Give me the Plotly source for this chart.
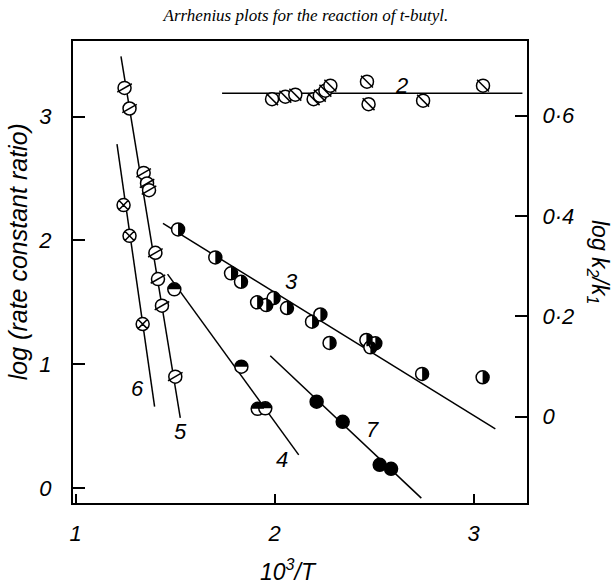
import plotly.graph_objects as go

# ---------------- data ----------------
# series 2 : plotted against the right axis (log k2/k1)
s2_x = [1.987, 2.054, 2.104, 2.196, 2.227, 2.255, 2.280, 2.464, 2.472, 2.746, 3.047]
s2_y = [0.633, 0.638, 0.642, 0.633, 0.640, 0.650, 0.660, 0.668, 0.623, 0.630, 0.660]
fit2_x = [1.736, 3.245]
fit2_y = [0.645, 0.645]

# series 3 (right half black circles)
s3_x = [1.515, 1.702, 1.781, 1.831, 1.912, 1.958, 1.995, 2.062, 2.188, 2.230,
        2.276, 2.461, 2.481, 2.506, 2.741, 3.045]
s3_y = [2.089, 1.863, 1.734, 1.666, 1.500, 1.478, 1.535, 1.454, 1.344, 1.402,
        1.172, 1.196, 1.137, 1.169, 0.922, 0.895]
fit3_x = [1.439, 3.109]
fit3_y = [2.137, 0.478]

# series 4 (upper half black circles)
s4_x = [1.496, 1.833, 1.915, 1.953]
s4_y = [1.605, 0.981, 0.640, 0.644]
fit4_x = [1.462, 2.121]
fit4_y = [1.728, 0.269]

# series 5 (circles with a shallow stripe)
s5_x = [1.246, 1.271, 1.342, 1.359, 1.369, 1.401, 1.414, 1.434, 1.501]
s5_y = [3.231, 3.065, 2.545, 2.460, 2.406, 1.900, 1.688, 1.473, 0.900]
fit5_x = [1.228, 1.526]
fit5_y = [3.486, 0.567]

# series 6 (crossed circles)
s6_x = [1.241, 1.271, 1.337]
s6_y = [2.285, 2.037, 1.325]
fit6_x = [1.208, 1.397]
fit6_y = [2.777, 0.658]

# series 7 (filled circles)
s7_x = [2.211, 2.342, 2.528, 2.585]
s7_y = [0.698, 0.535, 0.188, 0.156]
fit7_x = [1.978, 2.737]
fit7_y = [1.069, -0.081]

# curve labels
lab_text = ["2", "3", "4", "5", "6", "7"]
lab_x = [2.636, 2.087, 2.039, 1.526, 1.309, 2.491]
lab_y = [3.252, 1.666, 0.228, 0.454, 0.806, 0.470]

# ticks
x_ticks = [1, 2, 3]
x_ticktext = ["1", "2", "3"]
yl_ticks = [0, 1, 2, 3]
yl_ticktext = ["0", "1", "2", "3"]
yr_ticks = [0, 0.2, 0.4, 0.6]
yr_ticktext = ["0", "0·2", "0·4", "0·6"]

title_text = "Arrhenius plots for the reaction of t-butyl."

# ---------------- figure ----------------
HAND = "Liberation Sans"
MS = 13
LW = 1.5
R = 6.3          # half-disk radius in pixels
K = 0.5523 * R   # bezier handle

fig = go.Figure()


def add_line(x, y, yaxis="y"):
    fig.add_trace(go.Scatter(x=x, y=y, mode="lines", yaxis=yaxis,
                             line=dict(color="black", width=LW),
                             showlegend=False, hoverinfo="skip"))


def add_disk(x, y, yaxis="y", symbol="circle", color="white"):
    fig.add_trace(go.Scatter(x=x, y=y, mode="markers", yaxis=yaxis,
                             marker=dict(symbol=symbol, size=MS, color=color,
                                         line=dict(color="black", width=LW)),
                             showlegend=False, hoverinfo="skip"))


def add_stripe(x, y, angle, yaxis="y"):
    fig.add_trace(go.Scatter(x=x, y=y, mode="markers", yaxis=yaxis,
                             marker=dict(symbol="line-ew", size=MS - 1, angle=angle,
                                         line=dict(color="black", width=LW)),
                             showlegend=False, hoverinfo="skip"))


# pixel paths of half disks (relative to the point)
RIGHT_HALF = (f"M 0,{R} C {K},{R} {R},{K} {R},0 "
              f"C {R},{-K} {K},{-R} 0,{-R} Z")
UPPER_HALF = (f"M {-R},0 C {-R},{K} {-K},{R} 0,{R} "
              f"C {K},{R} {R},{K} {R},0 Z")


def add_half(x, y, path):
    add_disk(x, y)
    for xi, yi in zip(x, y):
        fig.add_shape(type="path", xref="x", yref="y",
                      xsizemode="pixel", ysizemode="pixel",
                      xanchor=xi, yanchor=yi, path=path,
                      fillcolor="black", line=dict(width=0), layer="above")


# fit lines
add_line(fit2_x, fit2_y, "y2")
add_line(fit3_x, fit3_y)
add_line(fit4_x, fit4_y)
add_line(fit5_x, fit5_y)
add_line(fit6_x, fit6_y)
add_line(fit7_x, fit7_y)

# series 2 (right axis)
add_disk(s2_x, s2_y, "y2")
add_stripe(s2_x, s2_y, 45, "y2")
# series 5
add_disk(s5_x, s5_y)
add_stripe(s5_x, s5_y, -30)
# series 6
add_disk(s6_x, s6_y, symbol="circle-x")
# series 7
add_disk(s7_x, s7_y, color="black")
# series 3 and 4 (half filled)
add_half(s3_x, s3_y, RIGHT_HALF)
add_half(s4_x, s4_y, UPPER_HALF)

# curve labels
for t, x, y in zip(lab_text, lab_x, lab_y):
    fig.add_annotation(x=x, y=y, xref="x", yref="y", text=t, showarrow=False,
                       xanchor="center", yanchor="middle",
                       font=dict(family=HAND, size=22, color="black", style="italic"))

# axis titles
fig.add_annotation(x=-0.121, y=0.543, xref="paper", yref="paper",
                   xanchor="center", yanchor="middle",
                   text="log (rate constant ratio)", textangle=-90, showarrow=False,
                   font=dict(family=HAND, size=25, color="black", style="italic"))
fig.add_annotation(x=1.156, y=0.522, xref="paper", yref="paper",
                   xanchor="center", yanchor="middle",
                   text="log k<sub>2</sub>/k<sub>1</sub>", textangle=90, showarrow=False,
                   font=dict(family=HAND, size=23, color="black", style="italic"))
fig.add_annotation(x=0.474, y=-0.145, xref="paper", yref="paper",
                   xanchor="center", yanchor="middle",
                   text="10<sup>3</sup>/T", showarrow=False,
                   font=dict(family=HAND, size=23, color="black", style="italic"))

axis_common = dict(showgrid=False, zeroline=False, showline=True, linecolor="black",
                   linewidth=2, ticks="inside", tickcolor="black", tickwidth=1.5,
                   tickfont=dict(family=HAND, size=22, color="black", style="italic"))

fig.update_layout(
    width=616, height=586,
    margin=dict(l=73, r=89, t=41, b=83),
    paper_bgcolor="white", plot_bgcolor="white",
    showlegend=False,
    hovermode=False,
    title=dict(text=title_text, x=0.513, xref="paper", y=0.975, yref="container",
               xanchor="center", yanchor="middle",
               font=dict(family="Liberation Serif", size=17, color="black", style="italic")),
    xaxis=dict(range=[0.987, 3.268], tickvals=x_ticks, ticktext=x_ticktext,
               ticklen=9, mirror=True, ticklabelstandoff=10, **axis_common),
    yaxis=dict(range=[-0.12, 3.61], tickvals=yl_ticks, ticktext=yl_ticktext,
               ticklen=12, ticklabelstandoff=15, **axis_common),
    yaxis2=dict(range=[-0.172, 0.749], tickvals=yr_ticks, ticktext=yr_ticktext,
                ticklen=12, overlaying="y", side="right", ticklabelstandoff=9,
                **axis_common),
)

fig.write_html("out.html", config={"displayModeBar": False},
               post_script="document.body.style.margin='0';")
